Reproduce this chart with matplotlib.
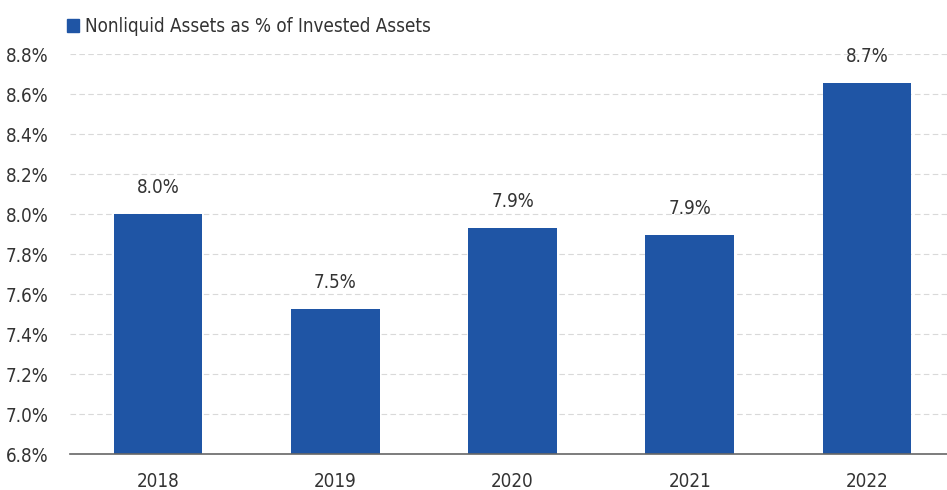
import matplotlib.pyplot as plt
from matplotlib.patches import Patch

years = ["2018", "2019", "2020", "2021", "2022"]
values = [8.00, 7.525, 7.93, 7.895, 8.655]
labels = ["8.0%", "7.5%", "7.9%", "7.9%", "8.7%"]
yticks = [6.8, 7.0, 7.2, 7.4, 7.6, 7.8, 8.0, 8.2, 8.4, 8.6, 8.8]

BLUE = "#1F55A5"
plt.rcParams["font.family"] = ["DejaVu Sans"]
plt.rcParams["font.stretch"] = "condensed"

fig = plt.figure(figsize=(9.47, 4.9), dpi=100)
ax = fig.add_axes([69.5 / 947, 1 - 454 / 490, 886 / 947, 400 / 490])

xs = range(len(years))
ax.bar(xs, values, width=0.5, color=BLUE, zorder=3)
for x, v, lab in zip(xs, values, labels):
    ax.text(x, v + 0.085, lab, ha="center", va="bottom", fontsize=13.5, color="#333333")

ax.set_xlim(-0.5, 4.5)
ax.set_ylim(6.8, 8.8)
ax.set_yticks(yticks)
ax.set_yticklabels([f"{t:.1f}%" for t in yticks])
ax.set_xticks(list(xs))
ax.set_xticklabels(years)
ax.tick_params(axis="both", length=0, labelsize=13.5, colors="#333333")
ax.tick_params(axis="x", pad=13)
ax.tick_params(axis="y", pad=15)

ax.grid(axis="y", color="#d9d9d9", linestyle=(0, (5, 3)), linewidth=0.8, zorder=0)
for s in ["top", "right", "left"]:
    ax.spines[s].set_visible(False)
ax.spines["bottom"].set_color("#666666")
ax.spines["bottom"].set_linewidth(1.2)
ax.spines["bottom"].set_zorder(4)

fig.legend(handles=[Patch(color=BLUE, label="Nonliquid Assets as % of Invested Assets")],
           loc="upper left", bbox_to_anchor=(50 / 947, 1 - 0 / 490), frameon=False,
           fontsize=13.5, handlelength=0.65, handleheight=0.65, handletextpad=0.3,
           labelcolor="#333333")

fig.savefig("out.png", dpi=100)
